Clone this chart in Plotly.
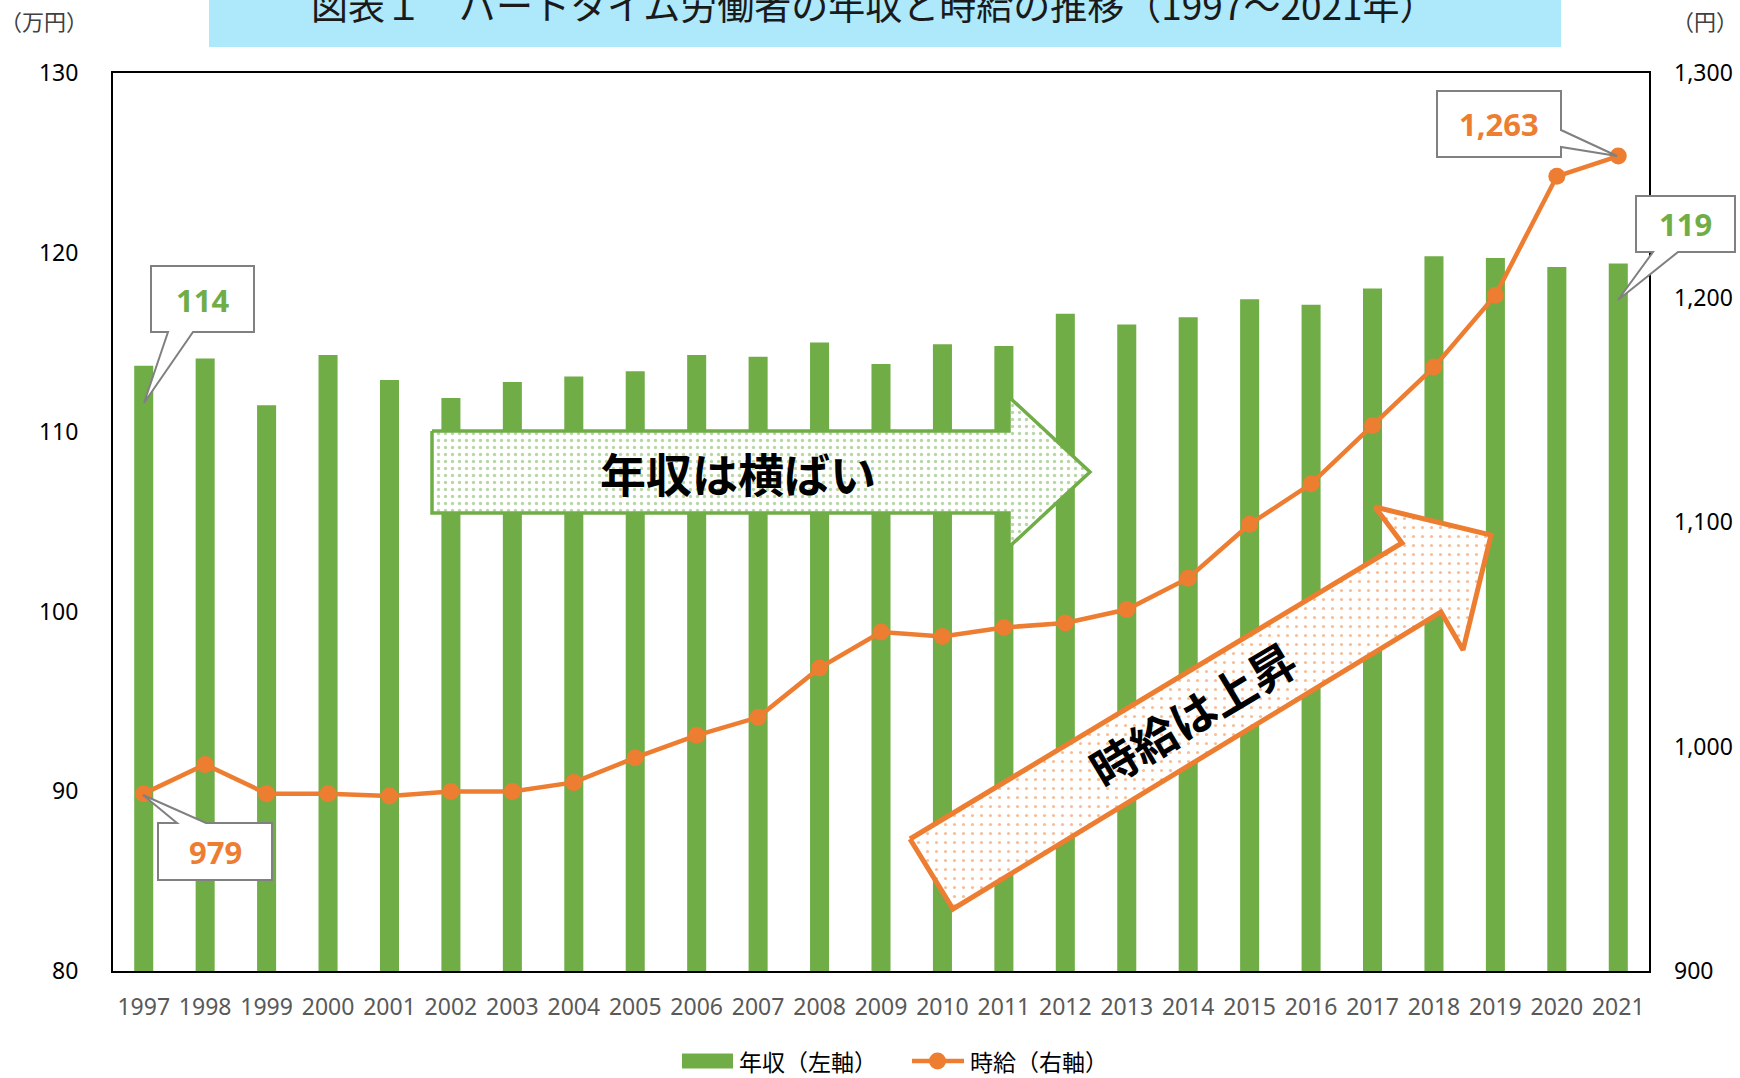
import plotly.graph_objects as go

# ---------------- data ----------------
years = ["1997", "1998", "1999", "2000", "2001", "2002", "2003", "2004", "2005",
         "2006", "2007", "2008", "2009", "2010", "2011", "2012", "2013", "2014",
         "2015", "2016", "2017", "2018", "2019", "2020", "2021"]
annual_income = [113.7, 114.1, 111.5, 114.3, 112.9, 111.9, 112.8, 113.1, 113.4,
                 114.3, 114.2, 115.0, 113.8, 114.9, 114.8, 116.6, 116.0, 116.4,
                 117.4, 117.1, 118.0, 119.8, 119.7, 119.2, 119.4]
hourly_wage = [979, 992, 979, 979, 978, 980, 980, 984, 995,
               1005, 1013, 1035, 1051, 1049, 1053, 1055, 1061, 1075,
               1099, 1117, 1143, 1169, 1201, 1254, 1263]
left_ticks = [80, 90, 100, 110, 120, 130]
right_ticks = [900, 1000, 1100, 1200, 1300]

series_names = ["年収（左軸）", "時給（右軸）"]
title_text = "図表１　パートタイム労働者の年収と時給の推移（1997～2021年）"
flat_label = "年収は横ばい"
rise_label = "時給は上昇"

# ---------------- layout helpers ----------------
W, H = 1740, 1078
PL, PR, PT, PB = 113, 1649, 73, 971


def px(x):
    return (x - PL) / (PR - PL)


def py(y):
    return (PB - y) / (PB - PT)


GREEN = "#70AD47"
ORANGE = "#ED7D31"
GREY = "#808080"
JP = "Noto Sans CJK JP"
NUM = "Noto Sans"

fig = go.Figure()

fig.add_trace(go.Bar(
    x=years, y=annual_income, name=series_names[0],
    marker=dict(color=GREEN, line=dict(width=0)),
    xaxis="x", yaxis="y", showlegend=False,
))
fig.add_trace(go.Scatter(
    x=years, y=hourly_wage, name=series_names[1], mode="lines+markers",
    line=dict(color=ORANGE, width=4.5),
    marker=dict(size=17, color=ORANGE),
    xaxis="x", yaxis="y2", showlegend=False,
))

# ---------------- decorative block arrows (pixel overlay axis) ----------------
green_arrow = [(432, 431), (1009, 431), (1009, 397), (1090, 472),
               (1009, 547), (1009, 513), (432, 513), (432, 431)]
orange_arrow = [(910, 839), (1402, 543), (1375, 507), (1491, 535),
                (1463, 650), (1441, 612), (953, 909), (910, 839)]

for pts, col, lw, sz, sol in [(green_arrow, GREEN, 3.5, 7, 0.18),
                              (orange_arrow, ORANGE, 5, 9, 0.1)]:
    fig.add_trace(go.Scatter(
        x=[p[0] for p in pts], y=[p[1] for p in pts],
        xaxis="x3", yaxis="y3", mode="lines", fill="toself",
        line=dict(color=col, width=lw),
        fillpattern=dict(shape=".", fgcolor=col, bgcolor="white",
                         size=sz, solidity=sol),
        showlegend=False, hoverinfo="skip",
    ))

# ---------------- callout bubbles ----------------
def path_from(pts):
    return "M " + " L ".join(f"{px(x):.5f},{py(y):.5f}" for x, y in pts) + " Z"


bubbles = [
    [(151, 266), (254, 266), (254, 332), (193, 332), (144, 403), (168, 332), (151, 332)],
    [(158, 823), (177, 823), (143, 795), (206, 823), (272, 823), (272, 880), (158, 880)],
    [(1437, 91), (1561, 91), (1561, 130), (1617, 156), (1561, 147), (1561, 157), (1437, 157)],
    [(1636, 196), (1735, 196), (1735, 252), (1678, 252), (1618, 300), (1653, 252), (1636, 252)],
]
shapes = []
for b in bubbles:
    shapes.append(dict(type="path", xref="paper", yref="paper", path=path_from(b),
                       fillcolor="white", line=dict(color=GREY, width=2), layer="above"))

# title band
shapes.append(dict(type="rect", xref="paper", yref="paper",
                   x0=px(209), x1=px(1561), y0=py(47), y1=py(-5),
                   fillcolor="#ADE8FB", line=dict(width=0), layer="below"))

# legend (drawn manually to match the wide swatch)
LEG_Y = 1061
shapes.append(dict(type="rect", xref="paper", yref="paper",
                   x0=px(682), x1=px(733), y0=py(LEG_Y + 7.5), y1=py(LEG_Y - 7.5),
                   fillcolor=GREEN, line=dict(width=0)))
shapes.append(dict(type="line", xref="paper", yref="paper",
                   x0=px(912), x1=px(964), y0=py(LEG_Y), y1=py(LEG_Y),
                   line=dict(color=ORANGE, width=4.5)))
shapes.append(dict(type="circle", xref="paper", yref="paper",
                   x0=px(929), x1=px(946), y0=py(LEG_Y + 8.5), y1=py(LEG_Y - 8.5),
                   fillcolor=ORANGE, line=dict(width=0)))

callout_texts = [
    (f"{round(annual_income[0])}", GREEN, 202, 300),
    (f"{hourly_wage[0]:,}", ORANGE, 215, 852),
    (f"{hourly_wage[-1]:,}", ORANGE, 1499, 124),
    (f"{round(annual_income[-1])}", GREEN, 1685, 224),
]
annotations = []
for t, c, x, y in callout_texts:
    annotations.append(dict(text=f"<b>{t}</b>", x=px(x), y=py(y), xref="paper", yref="paper",
                            showarrow=False, xanchor="center", yanchor="middle",
                            font=dict(family=NUM, size=31, color=c)))

annotations += [
    dict(text=title_text, x=px(874), y=py(4), xref="paper", yref="paper",
         showarrow=False, xanchor="center", yanchor="middle",
         font=dict(family=JP, size=37, color="#1a1a1a")),
    dict(text="（万円）", x=px(44), y=py(20), xref="paper", yref="paper",
         showarrow=False, xanchor="center", yanchor="middle",
         font=dict(family=JP, size=22, color="#404040")),
    dict(text="（円）", x=px(1740), y=py(20), xref="paper", yref="paper",
         showarrow=False, xanchor="right", yanchor="middle",
         font=dict(family=JP, size=22, color="#404040")),
    dict(text=f"<b>{flat_label}</b>", x=px(738), y=py(472), xref="paper", yref="paper",
         showarrow=False, xanchor="center", yanchor="middle",
         font=dict(family=JP, size=46, color="black")),
    dict(text=f"<b>{rise_label}</b>", x=px(1192), y=py(713), xref="paper", yref="paper",
         showarrow=False, xanchor="center", yanchor="middle", textangle=-31,
         font=dict(family=JP, size=46, color="black")),
    dict(text=series_names[0], x=px(737), y=py(LEG_Y), xref="paper", yref="paper",
         showarrow=False, xanchor="left", yanchor="middle",
         font=dict(family=JP, size=23, color="black")),
    dict(text=series_names[1], x=px(968), y=py(LEG_Y), xref="paper", yref="paper",
         showarrow=False, xanchor="left", yanchor="middle",
         font=dict(family=JP, size=23, color="black")),
]

fig.update_layout(
    width=W, height=H,
    margin=dict(l=PL, r=W - PR, t=PT, b=H - PB, pad=0, autoexpand=False),
    paper_bgcolor="white", plot_bgcolor="rgba(0,0,0,0)",
    bargap=0.69,
    showlegend=False,
    xaxis=dict(domain=[0, 1], type="category", range=[-0.5, len(years) - 0.5],
               showline=True, linecolor="black", linewidth=2, automargin=False,
               mirror=True, ticks="", showgrid=False, ticklabelstandoff=14,
               tickfont=dict(family=NUM, size=23, color="#595959")),
    yaxis=dict(domain=[0, 1], range=[80, 130], tickvals=left_ticks, showline=True,
               linecolor="black", linewidth=2, mirror=True, showgrid=False, zeroline=False,
               ticks="", ticklabelstandoff=28, automargin=False,
               tickfont=dict(family=NUM, size=23, color="black")),
    yaxis2=dict(overlaying="y", side="right", range=[900, 1300], tickvals=right_ticks,
                tickformat=",", showgrid=False, zeroline=False, showline=False, ticks="",
                ticklabelstandoff=24, automargin=False,
                tickfont=dict(family=NUM, size=23, color="black")),
    xaxis3=dict(domain=[0, 1], range=[PL, PR], anchor="y3", visible=False, fixedrange=True),
    yaxis3=dict(domain=[0, 1], range=[PB, PT], anchor="x3", visible=False, fixedrange=True),
    shapes=shapes,
    annotations=annotations,
)

fig.write_html("out.html", config={"displayModeBar": False},
               post_script="document.body.style.margin='0';")
